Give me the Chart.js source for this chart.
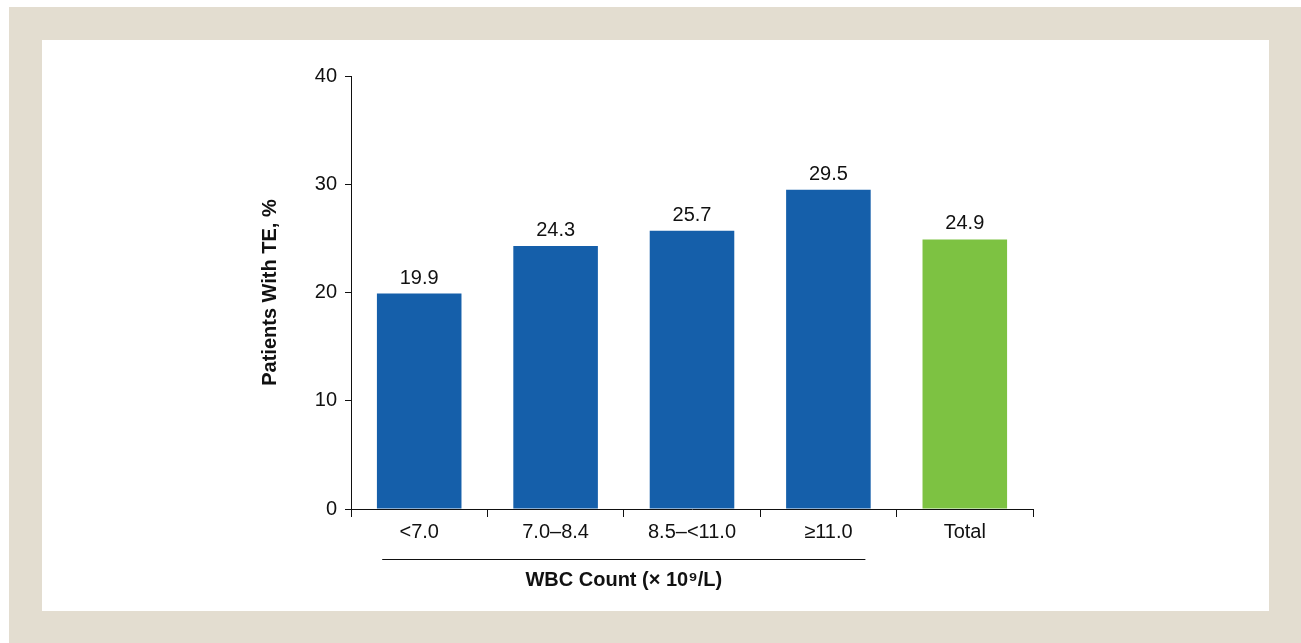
<!DOCTYPE html>
<html>
<head>
<meta charset="utf-8">
<script src="https://cdn.jsdelivr.net/npm/chart.js@4"></script>
<style>
  html, body { margin: 0; padding: 0; background: #fff; }
  body { width: 1301px; height: 643px; position: relative; overflow: hidden; }
  #frame { position: absolute; left: 9px; top: 7px; width: 1292px; height: 636px; background: #E3DDD0; }
  #inner { position: absolute; left: 42px; top: 40px; width: 1227px; height: 571px; background: #fff; }
  #wrap { position: absolute; left: 0; top: 0; width: 1301px; height: 643px; }
</style>
</head>
<body>
<div id="frame"></div>
<div id="inner"></div>
<div id="wrap"><canvas id="chart" width="1301" height="643"></canvas></div>
<script>
const categories = ['<7.0', '7.0–8.4', '8.5–<11.0', '≥11.0', 'Total'];
const values = [19.9, 24.3, 25.7, 29.5, 24.9];
const barColors = ['#155FAA', '#155FAA', '#155FAA', '#155FAA', '#7DC242'];
const yTicks = [0, 10, 20, 30, 40];
const groupLabel = 'WBC Count (× 10⁹/L)';
const groupCount = 4;

const FONT = '"Liberation Sans", Arial, sans-serif';

const overlay = {
  id: 'overlay',
  afterDatasetsDraw(chart) {
    const ctx = chart.ctx;
    const meta = chart.getDatasetMeta(0);
    ctx.save();
    ctx.fillStyle = '#111';
    ctx.font = '20px ' + FONT;
    ctx.textAlign = 'center';
    ctx.textBaseline = 'alphabetic';
    meta.data.forEach((bar, i) => {
      ctx.fillText(values[i].toFixed(1), bar.x, bar.y - 10);
    });
    // bracket under WBC categories
    const x = chart.scales.x;
    const x0 = x.getPixelForValue(0) - 37;
    const x1 = x.getPixelForValue(groupCount - 1) + 37;
    const yLine = 559;
    ctx.strokeStyle = '#111';
    ctx.lineWidth = 1;
    ctx.beginPath();
    ctx.moveTo(x0, yLine + 0.5);
    ctx.lineTo(x1, yLine + 0.5);
    ctx.stroke();
    ctx.font = 'bold 20px ' + FONT;
    ctx.textBaseline = 'middle';
    ctx.fillText(groupLabel, (x0 + x1) / 2, 580);
    ctx.restore();
  }
};

new Chart(document.getElementById('chart'), {
  type: 'bar',
  data: {
    labels: categories,
    datasets: [{
      data: values,
      backgroundColor: barColors,
      borderWidth: 0,
      categoryPercentage: 1,
      barPercentage: 0.62
    }]
  },
  options: {
    responsive: false,
    animation: false,
    layout: { padding: { left: 254, right: 268, top: 76, bottom: 84 } },
    plugins: { legend: { display: false }, tooltip: { enabled: false } },
    scales: {
      x: {
        afterFit(scale) { scale.height = 50; },
        grid: { display: true, drawOnChartArea: false, offset: true, tickLength: 8, color: '#111', lineWidth: 1 },
        border: { display: true, color: '#111', width: 1 },
        ticks: { color: '#111', font: { family: FONT, size: 20 }, padding: 3 }
      },
      y: {
        min: 0,
        max: 40,
        afterFit(scale) { scale.width = 97; },
        afterBuildTicks(scale) { scale.ticks = yTicks.map(v => ({ value: v })); },
        grid: { display: true, drawOnChartArea: false, tickLength: 6, color: '#111', lineWidth: 1 },
        border: { display: true, color: '#111', width: 1 },
        ticks: { color: '#111', font: { family: FONT, size: 20 }, padding: 8 },
        title: { display: true, text: 'Patients With TE, %', color: '#111', font: { family: FONT, size: 20, weight: 'bold' } }
      }
    }
  },
  plugins: [overlay]
});
</script>
</body>
</html>
